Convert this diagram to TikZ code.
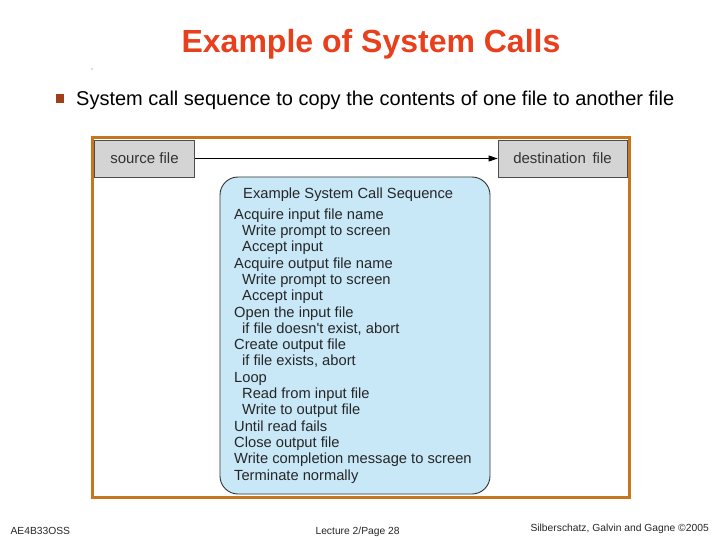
\documentclass[tikz,border=0pt]{standalone}
\usepackage{fontspec}
\setmainfont{Liberation Sans}
\usetikzlibrary{arrows.meta}
\definecolor{titlered}{HTML}{E8401C}
\definecolor{bulletbrown}{HTML}{A0401A}
\definecolor{frameorange}{HTML}{C8761E}
\definecolor{seqblue}{HTML}{C8E8F8}
\definecolor{filegray}{HTML}{D4D4D4}
\tikzset{
  filebox/.style={fill=filegray, draw=black!70, line width=0.8pt, font=\fontsize{15}{17}\selectfont, text=black!80},
  footer/.style={font=\fontsize{10.3}{12}\selectfont, text=black!85, anchor=base west},
  seqline/.style={anchor=base west, inner sep=0pt, font=\fontsize{14.7}{17}\selectfont, text=black!85},
}
\begin{document}
\begin{tikzpicture}[x=1pt,y=-1pt]
\useasboundingbox (0,0) rectangle (720,540);
% title
\node[font=\bfseries\fontsize{32}{36}\selectfont, text=titlered] (title) at (371,44) {Example of System Calls};
\node[circle, fill=black!60, inner sep=0pt, minimum size=1.2pt] (dot) at (92,69) {};
% bullet
\node[fill=bulletbrown, inner sep=0pt, minimum size=8.5pt] (bullet) at (60,98.5) {};
\node[anchor=base west, font=\fontsize{20}{23}\selectfont, inner sep=0pt] (sub) at (76,105.5) {System call sequence to copy the contents of one file to another file};
% frame
\node[draw=frameorange, line width=3pt, fill=white, minimum width=537pt, minimum height=359pt, inner sep=0pt] (frame) at (360.5,317.5) {};
% file boxes
\node[filebox, minimum width=100pt, minimum height=37pt, inner sep=0pt] (src) at (144.5,158.5) {source file};
\node[filebox, minimum width=129pt, minimum height=37pt, inner sep=0pt] (dst) at (562.5,158.5) {destination\, file};
\draw[line width=0.8pt, -{Triangle[length=9pt,width=6pt]}] (src.east) -- (dst.west);
% sequence box
\node[draw=black!80, line width=0.9pt, fill=seqblue, rounded corners=18pt, minimum width=270pt, minimum height=317pt, inner sep=0pt] (seqbox) at (355,335.5) {};
\node[seqline] (seqhead) at (243,199) {Example System Call Sequence};
\foreach \t [count=\i from 0] in {
  Acquire input file name,
  \hspace*{8pt}Write prompt to screen,
  \hspace*{8pt}Accept input,
  Acquire output file name,
  \hspace*{8pt}Write prompt to screen,
  \hspace*{8pt}Accept input,
  Open the input file,
  \hspace*{8pt}if file doesn\textquotesingle t exist{,} abort,
  Create output file,
  \hspace*{8pt}if file exists{,} abort,
  Loop,
  \hspace*{8pt}Read from input file,
  \hspace*{8pt}Write to output file,
  Until read fails,
  Close output file,
  Write completion message to screen,
  Terminate normally}
  \node[seqline] (seq\i) at (234,219.2+16.3*\i) {\t};
% footer
\node[footer] (f1) at (7,534) {AE4B33OSS};
\node[footer] (f2) at (312,534) {Lecture 2/Page 28};
\node[footer] (f3) at (527,531) {Silberschatz, Galvin and Gagne \textcopyright2005};
\end{tikzpicture}
\end{document}
